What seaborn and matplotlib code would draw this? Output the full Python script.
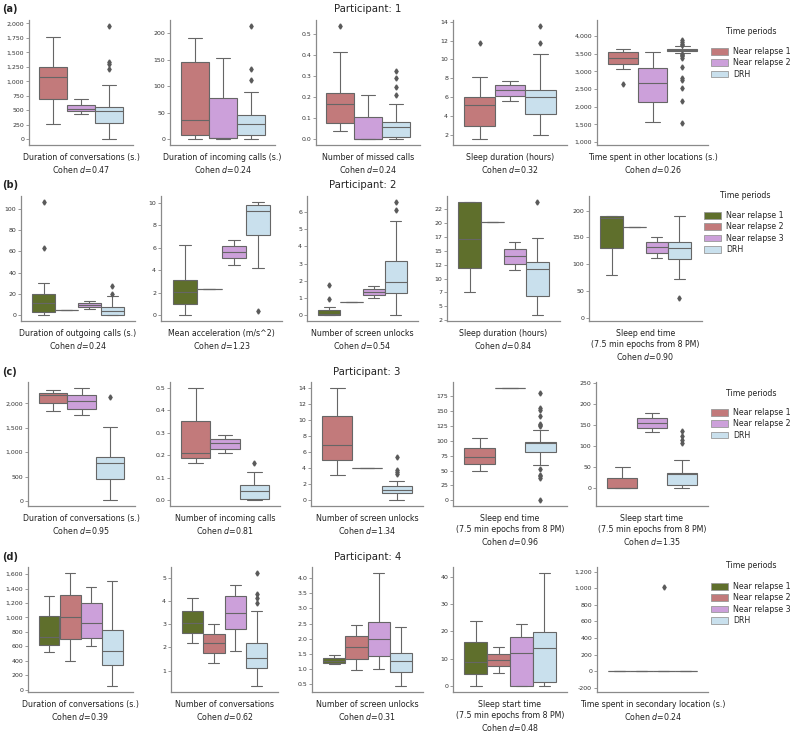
import matplotlib
matplotlib.use("Agg")
import matplotlib.pyplot as plt
from matplotlib.patches import Patch
from matplotlib.ticker import FuncFormatter
import pandas as pd
import seaborn as sns

sns.set_style("ticks")
plt.rcParams["font.family"] = ["DejaVu Sans"]
plt.rcParams["mathtext.fontset"] = "dejavusans"

# ---------------------------------------------------------------- data
PERIODS_3 = ["Near relapse 1", "Near relapse 2", "DRH"]
PERIODS_4 = ["Near relapse 1", "Near relapse 2", "Near relapse 3", "DRH"]
COLORS_3 = ["#c27a7b", "#cca0da", "#c9e0ed"]
COLORS_4 = ["#5f6f2c", "#c27a7b", "#cca0da", "#c9e0ed"]

# each box: [low whisker, Q1, median, Q3, high whisker]; outliers listed apart
# Row (a) - Participant 1
a_features = ["Duration of conversations (s.)", "Duration of incoming calls (s.)",
              "Number of missed calls", "Sleep duration (hours)",
              "Time spent in other locations (s.)"]
a_cohen = [0.47, 0.24, 0.24, 0.32, 0.26]
a1_box = [[270, 700, 1070, 1250, 1770], [430, 480, 530, 600, 690], [0, 280, 480, 550, 940]]
a1_out = [[], [], [1210, 1300, 1330, 1960]]
a2_box = [[0, 7.5, 36, 146, 190], [0, 2, 2, 78, 153], [0, 8, 29, 46, 90]]
a2_out = [[], [], [111, 133, 214]]
a3_box = [[0.041, 0.079, 0.167, 0.222, 0.414], [0, 0, 0, 0.107, 0.212], [0, 0.013, 0.06, 0.083, 0.167]]
a3_out = [[0.54], [], [0.209, 0.248, 0.292, 0.327]]
a4_box = [[1.54, 2.95, 5.19, 6.0, 8.18], [5.58, 6.18, 6.77, 7.26, 7.75], [2.0, 4.18, 6.04, 6.77, 10.63]]
a4_out = [[11.72], [], [11.75, 13.58]]
a5_box = [[3072, 3212, 3370, 3537, 3630], [1567, 2125, 2673, 3100, 3537], [3509, 3584, 3611, 3639, 3704]]
a5_out = [[2636], [], [3730, 3760, 3820, 3880, 3490, 3460, 3420, 3380, 3120,
                       2810, 2750, 2540, 2160, 1540]]

# Row (b) - Participant 2
b_features = ["Duration of outgoing calls (s.)", "Mean acceleration (m/s^2)",
              "Number of screen unlocks", "Sleep duration (hours)",
              "Sleep end time\n(7.5 min epochs from 8 PM)"]
b_cohen = [0.24, 1.23, 0.54, 0.84, 0.90]
b1_box = [[0, 3.4, 11.25, 19.7, 30], [4.7] * 5, [5.6, 7.8, 9.7, 11.9, 13.75], [0, 0.3, 4, 7.8, 18.5]]
b1_out = [[63.4, 106.6], [], [], [19.8, 27.5]]
b2_box = [[0, 0.98, 2.05, 3.15, 6.22], [2.38] * 5, [4.52, 5.09, 5.68, 6.19, 6.73], [4.17, 7.14, 9.26, 9.79, 10.12]]
b2_out = [[], [], [], [0.39]]
b3_box = [[0, 0, 0.05, 0.29, 0.49], [0.76] * 5, [1.0, 1.18, 1.38, 1.53, 1.71], [0, 1.32, 1.92, 3.13, 5.5]]
b3_out = [[0.97, 1.75], [], [], [6.1, 6.6]]
b4_box = [[7.5, 11.9, 17.1, 23.8, 23.8], [20.07] * 5, [11.5, 12.7, 14.07, 15.3, 16.57], [3.4, 6.9, 11.8, 13.0, 17.3]]
b4_out = [[], [], [], [23.8]]
b5_box = [[79.5, 129.7, 186.5, 189.6, 189.6], [169.4] * 5, [111.9, 121.7, 131.5, 141.9, 151.7], [71.6, 108.9, 129.7, 141.9, 189.6]]
b5_out = [[], [], [], [36.7]]

# Row (c) - Participant 3
c_features = ["Duration of conversations (s.)", "Number of incoming calls",
              "Number of screen unlocks", "Sleep end time\n(7.5 min epochs from 8 PM)",
              "Sleep start time\n(7.5 min epochs from 8 PM)"]
c_cohen = [0.95, 0.81, 1.34, 0.96, 1.35]
c1_box = [[1851, 2007, 2169, 2216, 2277], [1757, 1892, 2047, 2176, 2324], [14, 453, 777, 905, 1514]]
c1_out = [[], [], [2135]]
c2_box = [[0.166, 0.187, 0.208, 0.353, 0.5], [0.21, 0.229, 0.254, 0.271, 0.29], [0, 0.006, 0.042, 0.066, 0.124]]
c2_out = [[], [], [0.166]]
c3_box = [[3.2, 5.04, 6.93, 10.5, 14.1], [4.0] * 5, [0, 0.94, 1.35, 1.76, 2.4]]
c3_out = [[], [], [3.3, 3.5, 3.8, 5.45]]
c4_box = [[48.9, 60.6, 72.8, 87.8, 104.4], [188.9] * 5, [60, 81.1, 96.7, 97.8, 117.2]]
c4_out = [[], [], [124, 125.6, 127.8, 141.7, 151.7, 154.4, 179.4, 53.3, 43.3, 40.6, 37.8, 0]]
c5_box = [[0, 0, 0, 25.4, 50], [132.4, 143, 155.6, 166, 178], [0, 7.7, 33.8, 35.2, 67]]
c5_out = [[], [], [108, 115, 125, 136]]

# Row (d) - Participant 4
d_features = ["Duration of conversations (s.)", "Number of conversations",
              "Number of screen unlocks", "Sleep start time\n(7.5 min epochs from 8 PM)",
              "Time spent in secondary location (s.)"]
d_cohen = [0.39, 0.62, 0.31, 0.48, 0.24]
d1_box = [[518, 624, 734, 1014, 1298], [394, 702, 1000, 1307, 1619], [601, 716, 917, 1193, 1427], [46, 335, 532, 821, 1500]]
d1_out = [[], [], [], []]
d2_box = [[2.18, 2.61, 3.03, 3.57, 4.12], [1.31, 1.74, 2.17, 2.59, 3.02], [1.84, 2.78, 3.46, 4.19, 4.66], [0.33, 1.13, 1.54, 2.19, 3.56]]
d2_out = [[], [], [], [3.9, 4.14, 4.29, 5.21]]
d3_box = [[1.16, 1.19, 1.28, 1.35, 1.47], [0.96, 1.34, 1.72, 2.1, 2.47], [1.01, 1.42, 1.99, 2.55, 4.18], [0.43, 0.9, 1.25, 1.53, 2.39]]
d3_out = [[], [], [], []]
d4_box = [[0, 4.5, 8.8, 16.3, 23.8], [4.95, 7.25, 9.67, 11.8, 14.3], [0, 0, 12.0, 17.8, 22.8], [0, 1.45, 13.9, 19.7, 41.4]]
d4_out = [[], [], [], []]
d5_box = [[0] * 5, [0] * 5, [0] * 5, [0] * 5]
d5_out = [[], [], [1012], []]

# ---------------------------------------------------------------- layout (pixels)
W, H = 800, 732
ROW_TOP = [20, 196, 382, 567]
ROW_BOTTOM = [145, 321, 506, 692]
PANEL_L = [[29, 170, 316, 453, 597], [21, 161, 307, 447, 589],
           [28, 170, 311, 453, 596], [28, 171, 312, 453, 597]]
PANEL_R = [[133, 275, 420, 567, 708], [135, 282, 418, 560, 702],
           [135, 280, 423, 567, 708], [133, 278, 423, 567, 708]]
TITLE_Y = [9, 185, 372, 557]
LEG_TITLE = [(751, 31), (745, 196), (751, 393), (751, 566)]
LEG_TOP = [(711, 47), (704, 211), (711, 408), (711, 582)]
YLIMS = [[None, None, None, None, (915, 4450)],
         [None, None, None, None, (-6, 227.5)],
         [None, None, None, None, (-42, 252)],
         [None, None, None, None, (-250, 1255)]]
DECIMAL = [[False, False, True, False, False],
           [False, False, False, False, False],
           [False, True, False, False, False],
           [False, False, True, False, False]]

rows = [
    ("(a)", 1, PERIODS_3, COLORS_3, a_features, a_cohen,
     [a1_box, a2_box, a3_box, a4_box, a5_box], [a1_out, a2_out, a3_out, a4_out, a5_out]),
    ("(b)", 2, PERIODS_4, COLORS_4, b_features, b_cohen,
     [b1_box, b2_box, b3_box, b4_box, b5_box], [b1_out, b2_out, b3_out, b4_out, b5_out]),
    ("(c)", 3, PERIODS_3, COLORS_3, c_features, c_cohen,
     [c1_box, c2_box, c3_box, c4_box, c5_box], [c1_out, c2_out, c3_out, c4_out, c5_out]),
    ("(d)", 4, PERIODS_4, COLORS_4, d_features, d_cohen,
     [d1_box, d2_box, d3_box, d4_box, d5_box], [d1_out, d2_out, d3_out, d4_out, d5_out]),
]


def observations(box, out):
    lo, q1, med, q3, hi = box
    n_low = sum(v < q1 for v in out)
    k = max(n_low, len(out) - n_low) + 1
    return [lo] + [q1] * k + [med] * k + [q3] * k + [hi] + list(out)


int_formatter = FuncFormatter(lambda v, p: f"{int(v):,}")

fig = plt.figure(figsize=(W / 100, H / 100), dpi=100)
EDGE = "#666666"
SPINE = "#8a8a8a"

for r, (tag, pid, periods, colors, feats, cohen, boxes, outs) in enumerate(rows):
    top, bot = ROW_TOP[r], ROW_BOTTOM[r]
    for p in range(5):
        l, rr = PANEL_L[r][p], PANEL_R[r][p]
        ax = fig.add_axes([l / W, 1 - bot / H, (rr - l) / W, (bot - top) / H])
        recs = []
        for per, bx, ou in zip(periods, boxes[p], outs[p]):
            for v in observations(bx, ou):
                recs.append({"grp": "", "period": per, "value": v})
        df = pd.DataFrame(recs)
        sns.boxplot(data=df, x="grp", y="value", hue="period", hue_order=periods,
                    palette=colors, saturation=1, width=0.8, gap=0, linewidth=0.8,
                    linecolor=EDGE, legend=False, ax=ax,
                    flierprops=dict(marker="d", markersize=2.6,
                                    markerfacecolor="#5a5a5a", markeredgecolor="#5a5a5a"))
        ax.set_xlim(-0.5, 0.5)
        if YLIMS[r][p] is not None:
            ax.set_ylim(*YLIMS[r][p])
        ax.set_xticks([])
        ax.set_ylabel("")
        ax.set_xlabel(f"{feats[p]}\nCohen $d$={cohen[p]:.2f}", fontsize=5.7,
                      labelpad=6, color="#222222")
        if not DECIMAL[r][p]:
            ax.yaxis.set_major_formatter(int_formatter)
        ax.tick_params(axis="y", labelsize=4.5, length=2, width=0.6, pad=1.5,
                       color=SPINE, labelcolor="#333333")
        sns.despine(ax=ax)
        for s in ("left", "bottom"):
            ax.spines[s].set_color(SPINE)
            ax.spines[s].set_linewidth(0.9)
        if p == 2:
            cx = (l + rr) / 2
            fig.text(cx / W, 1 - TITLE_Y[r] / H, f"Participant: {pid}", ha="center",
                     va="center", fontsize=7.3, color="#222222")
    fig.text(2 / W, 1 - TITLE_Y[r] / H, tag, ha="left", va="center",
             fontsize=7, fontweight="bold", color="#222222")
    tx, ty = LEG_TITLE[r]
    fig.text(tx / W, 1 - ty / H, "Time periods", ha="center", va="center",
             fontsize=5.6, color="#222222")
    handles = [Patch(facecolor=c, edgecolor="#999999", linewidth=0.6, label=per)
               for per, c in zip(periods, colors)]
    lx, ly = LEG_TOP[r]
    fig.legend(handles=handles, loc="upper left", bbox_to_anchor=(lx / W, 1 - ly / H),
               frameon=False, fontsize=5.7, borderpad=0, borderaxespad=0,
               handlelength=2.2, handleheight=0.9, handletextpad=0.6, labelspacing=0.3)

fig.savefig("out.png", dpi=100)
